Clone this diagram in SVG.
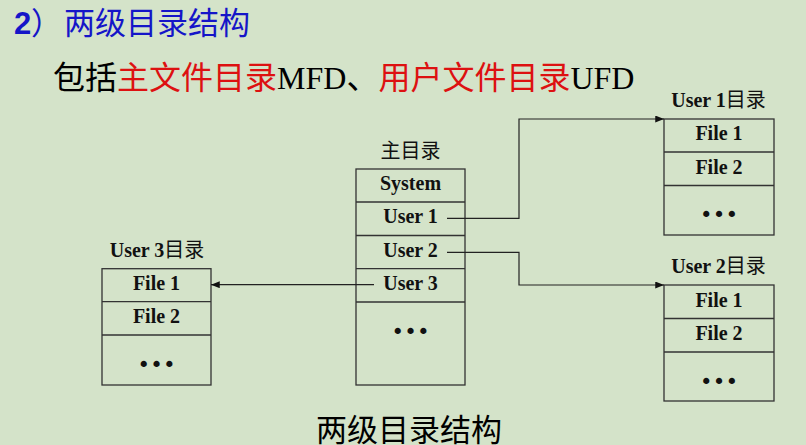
<svg xmlns="http://www.w3.org/2000/svg" width="806" height="445" viewBox="0 0 806 445">
<defs>
<style>
.cell{fill:none;stroke:#333;stroke-width:1.3}
.t{font-family:"Liberation Serif","Noto Sans CJK SC",serif;font-weight:bold;font-size:20px;fill:#111;text-anchor:middle}
.n{font-weight:normal}
.dots{font-family:"Liberation Serif",serif;font-weight:bold;font-size:38px;fill:#111;text-anchor:middle}
.conn{fill:none;stroke:#222;stroke-width:1.2}
.cjk{font-family:"Liberation Serif","Noto Sans CJK SC",sans-serif}
</style>
<marker id="arr" viewBox="0 0 10 8" refX="10" refY="4" markerWidth="9" markerHeight="7" markerUnits="userSpaceOnUse" orient="auto">
<path d="M0,0 L10,4 L0,8 Z" fill="#111"/>
</marker>
</defs>
<rect width="806" height="445" fill="#d4e3c9"/>
<text y="34" font-family="Liberation Sans,'Noto Sans CJK SC',sans-serif" font-size="31" fill="#1515c8"><tspan x="14" font-weight="bold">2</tspan><tspan x="31" font-family="'Noto Sans CJK SC',sans-serif">）</tspan><tspan x="64" font-family="'Noto Sans CJK SC',sans-serif">两级目录结构</tspan></text>
<text x="53" y="89" class="cjk" font-size="32" fill="#000">包括<tspan fill="#dd1111">主文件目录</tspan>MFD、<tspan fill="#dd1111">用户文件目录</tspan>UFD</text>

<g id="main">
<text x="410.5" y="158" class="t n">主目录</text>
<rect x="356" y="169" width="109" height="216" class="cell"/>
<line x1="356" y1="202" x2="465" y2="202" class="cell"/>
<line x1="356" y1="235.5" x2="465" y2="235.5" class="cell"/>
<line x1="356" y1="268.7" x2="465" y2="268.7" class="cell"/>
<line x1="356" y1="302" x2="465" y2="302" class="cell"/>
<text x="410.5" y="190" class="t">System</text>
<text x="410.5" y="223" class="t">User 1</text>
<text x="410.5" y="256.5" class="t">User 2</text>
<text x="410.5" y="289.7" class="t">User 3</text>
<text x="410.5" y="334" class="dots">…</text>
</g>

<g id="user1">
<text x="718.5" y="107" class="t">User 1<tspan class="n">目录</tspan></text>
<rect x="664" y="119" width="110" height="116" class="cell"/>
<line x1="664" y1="152" x2="774" y2="152" class="cell"/>
<line x1="664" y1="185.5" x2="774" y2="185.5" class="cell"/>
<text x="719" y="140" class="t">File 1</text>
<text x="719" y="173.5" class="t">File 2</text>
<text x="719" y="217" class="dots">…</text>
</g>

<g id="user2">
<text x="718.5" y="273" class="t">User 2<tspan class="n">目录</tspan></text>
<rect x="664" y="285" width="110" height="116" class="cell"/>
<line x1="664" y1="318.5" x2="774" y2="318.5" class="cell"/>
<line x1="664" y1="352" x2="774" y2="352" class="cell"/>
<text x="719" y="306.5" class="t">File 1</text>
<text x="719" y="339.5" class="t">File 2</text>
<text x="719" y="384" class="dots">…</text>
</g>

<g id="user3">
<text x="157" y="257" class="t">User 3<tspan class="n">目录</tspan></text>
<rect x="102" y="268.7" width="109" height="116.3" class="cell"/>
<line x1="102" y1="301.7" x2="211" y2="301.7" class="cell"/>
<line x1="102" y1="335" x2="211" y2="335" class="cell"/>
<text x="156.5" y="290" class="t">File 1</text>
<text x="156.5" y="323" class="t">File 2</text>
<text x="156.5" y="367" class="dots">…</text>
</g>

<g id="connectors">
<polyline points="447,218.3 519,218.3 519,119 664,119" class="conn" marker-end="url(#arr)"/>
<polyline points="447,252.3 519,252.3 519,285 664,285" class="conn" marker-end="url(#arr)"/>
<polyline points="374,284.7 211,284.7" class="conn" marker-end="url(#arr)"/>
</g>

<text x="409" y="441" class="cjk" font-size="31" fill="#000" text-anchor="middle">两级目录结构</text>
</svg>
